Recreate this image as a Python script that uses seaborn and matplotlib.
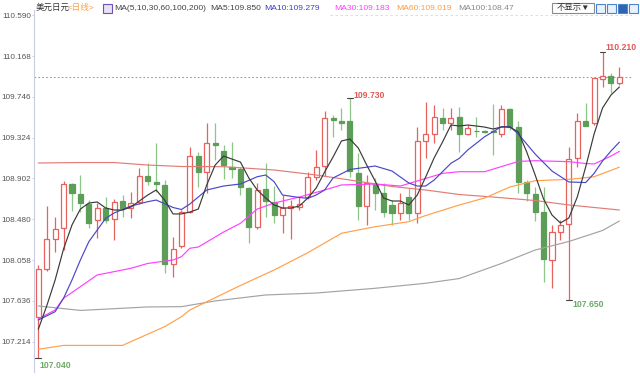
import matplotlib
matplotlib.use("Agg")
import matplotlib.pyplot as plt
from matplotlib.patches import Rectangle
import numpy as np
import pandas as pd
import seaborn as sns

# ---------------- data ----------------
opens = [107.473, 107.963, 108.273, 108.387, 108.845, 108.742, 108.638, 108.473, 108.600, 108.480,
         108.669, 108.594, 108.662, 108.928, 108.869, 108.835, 108.018, 108.204, 108.559, 109.138,
         108.972, 109.266, 109.190, 109.024, 109.000, 108.801, 108.404, 108.790, 108.662, 108.524,
         108.594, 108.611, 108.707, 108.921, 109.031, 109.525, 109.494, 109.497, 108.962, 108.618,
         108.845, 108.749, 108.628, 108.542, 108.707, 108.549, 109.293, 109.362, 109.525, 109.473,
         109.535, 109.362, 109.397, 109.392, 109.395, 109.362, 109.618, 109.438, 108.869, 108.742,
         108.559, 108.059, 108.352, 108.431, 109.111, 109.500, 109.479, 109.931, 109.965, 109.893]
highs = [108.007, 108.618, 108.507, 108.879, 108.859, 108.938, 108.680, 108.646, 108.714, 108.687,
         108.731, 108.766, 109.008, 109.059, 109.272, 108.887, 108.300, 108.580, 109.231, 109.179,
         109.479, 109.479, 109.249, 109.283, 109.020, 108.810, 108.852, 109.059, 108.825, 108.731,
         108.680, 108.714, 108.972, 109.197, 109.603, 109.559, 109.628, 109.730, 109.169, 108.938,
         108.904, 108.852, 108.680, 108.749, 108.801, 109.438, 109.696, 109.662, 109.628, 109.630,
         109.645, 109.455, 109.535, 109.400, 109.673, 109.662, 109.628, 109.500, 108.890, 108.818,
         108.818, 108.421, 108.473, 109.231, 109.576, 109.686, 109.940, 110.210, 109.996, 110.052]
lows = [107.040, 107.950, 108.145, 108.163, 108.569, 108.559, 108.387, 108.284, 108.439, 108.266,
        108.507, 108.490, 108.640, 108.835, 108.766, 107.922, 107.886, 108.180, 108.540, 108.818,
        108.749, 109.093, 108.894, 108.904, 108.731, 108.232, 108.380, 108.507, 108.439, 108.335,
        108.273, 108.576, 108.687, 108.887, 108.930, 109.334, 109.403, 108.921, 108.473, 108.421,
        108.576, 108.507, 108.421, 108.473, 108.473, 108.445, 109.111, 109.266, 109.403, 109.400,
        109.179, 109.352, 109.328, 109.375, 109.145, 109.328, 109.403, 108.755, 108.672, 108.466,
        107.835, 107.766, 108.266, 107.650, 109.018, 109.440, 109.455, 109.852, 109.790, 109.869]
closes = [107.963, 108.273, 108.377, 108.842, 108.749, 108.646, 108.439, 108.600, 108.473, 108.662,
          108.594, 108.652, 108.928, 108.879, 108.842, 108.018, 108.170, 108.559, 109.138, 108.972,
          109.266, 109.252, 109.042, 109.000, 108.811, 108.404, 108.783, 108.672, 108.524, 108.594,
          108.618, 108.638, 108.914, 109.024, 109.525, 109.507, 109.479, 108.983, 108.618, 108.852,
          108.749, 108.559, 108.542, 108.652, 108.549, 109.293, 109.362, 109.535, 109.473, 109.525,
          109.362, 109.421, 109.390, 109.386, 109.388, 109.618, 109.438, 108.869, 108.749, 108.559,
          108.066, 108.352, 108.421, 109.101, 109.500, 109.445, 109.938, 109.965, 109.893, 109.949]

ma5 = [107.342, 107.583, 107.852, 108.173, 108.421, 108.586, 108.648, 108.659, 108.597, 108.576,
       108.576, 108.607, 108.669, 108.731, 108.783, 108.679, 108.535, 108.535, 108.555, 108.586,
       108.835, 109.041, 109.134, 109.103, 109.072, 108.907, 108.783, 108.700, 108.628, 108.597,
       108.597, 108.617, 108.700, 108.804, 108.969, 109.124, 109.290, 109.310, 109.217, 109.041,
       108.876, 108.700, 108.669, 108.669, 108.628, 108.731, 108.917, 109.114, 109.279, 109.455,
       109.445, 109.455, 109.445, 109.434, 109.414, 109.434, 109.434, 109.383, 109.176, 108.938,
       108.690, 108.524, 108.442, 108.493, 108.710, 109.021, 109.362, 109.631, 109.765, 109.848]

ma10_idx = [0, 2, 3, 4, 5, 6, 7, 8, 9, 11, 13, 14, 16, 17, 18, 20, 22, 24, 26, 27, 28, 29, 31, 32,
            33, 34, 35, 37, 40, 42, 44, 45, 46, 47, 49, 50, 51, 53, 55, 56, 57, 59, 61, 63, 65, 66,
            67, 68, 69]
ma10 = [107.438, 107.524, 107.663, 107.852, 108.059, 108.248, 108.369, 108.490, 108.545, 108.617,
        108.662, 108.679, 108.602, 108.581, 108.638, 108.783, 108.824, 108.845, 108.920, 108.938,
        108.869, 108.731, 108.705, 108.697, 108.731, 108.783, 108.907, 108.995, 109.031, 108.979,
        108.855, 108.824, 108.824, 108.886, 109.059, 109.111, 109.197, 109.334, 109.438, 109.438,
        109.362, 109.155, 108.979, 108.866, 108.860, 108.955, 109.083, 109.186, 109.278]

ma30_idx = [0, 2, 3, 5, 7, 9, 11, 13, 16, 17, 18, 19, 22, 24, 26, 28, 31, 34, 36, 40, 43, 45, 48,
            50, 53, 57, 59, 63, 65, 66, 68, 69]
ma30 = [107.449, 107.542, 107.663, 107.783, 107.904, 107.938, 107.973, 108.023, 108.059, 108.093,
        108.180, 108.193, 108.348, 108.438, 108.586, 108.648, 108.710, 108.783, 108.835, 108.845,
        108.824, 108.876, 108.955, 108.972, 108.972, 109.078, 109.086, 109.076, 109.057, 109.052,
        109.134, 109.183]

ma60_idx = [0, 3, 10, 11, 15, 17, 18, 24, 28, 32, 36, 40, 44, 46, 50, 53, 56, 59, 63, 66, 69]
ma60 = [107.135, 107.175, 107.175, 107.214, 107.369, 107.472, 107.542, 107.795, 107.955, 108.134,
        108.335, 108.403, 108.455, 108.519, 108.628, 108.700, 108.814, 108.879, 108.893, 108.920,
        109.019]

ma100_idx = [0, 5, 9, 13, 17, 21, 27, 33, 40, 46, 50, 55, 59, 63, 67, 69]
ma100 = [107.583, 107.537, 107.555, 107.573, 107.576, 107.635, 107.697, 107.717, 107.766, 107.818,
         107.867, 108.023, 108.162, 108.250, 108.364, 108.462]

ma200_idx = [0, 5, 9, 13, 17, 22, 28, 33, 37, 42, 46, 50, 54, 59, 63, 69]
ma200 = [109.062, 109.067, 109.067, 109.041, 109.026, 109.024, 108.990, 108.938, 108.886, 108.819,
         108.783, 108.736, 108.710, 108.674, 108.628, 108.576]

yticks = [110.590, 110.168, 109.746, 109.324, 108.902, 108.480, 108.058, 107.636, 107.214]
last_price = 109.949

header_parts = ["美元日元", "<日线>", "MA(5,10,30,60,100,200)", "MA5:109.850", "MA10:109.279",
                "MA30:109.183", "MA60:109.019", "MA100:108.47"]
button_label = "不显示▼"

# ---------------- style ----------------
sns.set_style("white")
plt.rcParams["font.family"] = ["Liberation Sans", "Noto Sans CJK SC", "DejaVu Sans"]

UP = "#e8625d"
DOWN = "#5c9e58"
DOWN_WICK = "#8dc689"

fig = plt.figure(figsize=(6.4, 3.8), dpi=100)
ax = fig.add_axes([34 / 640, 8 / 380, 598 / 640, 362 / 380])

n = len(closes)
xs = np.arange(n)
df = pd.DataFrame({"x": xs, "open": opens, "high": highs, "low": lows, "close": closes})
up = df["close"] >= df["open"]

# wicks
ax.vlines(df.loc[up, "x"], df.loc[up, "low"], df.loc[up, "high"], color=UP, lw=0.9, zorder=2)
ax.vlines(df.loc[~up, "x"], df.loc[~up, "low"], df.loc[~up, "high"], color=DOWN_WICK, lw=0.9, zorder=2)

# bodies
body_lo = np.minimum(df["open"], df["close"])
body_h = np.maximum(np.abs(df["close"] - df["open"]), 0.006)
ax.bar(df.loc[up, "x"], body_h[up], bottom=body_lo[up], width=0.6,
       facecolor="white", edgecolor=UP, linewidth=0.9, zorder=3)
ax.bar(df.loc[~up, "x"], body_h[~up], bottom=body_lo[~up], width=0.6,
       facecolor=DOWN, edgecolor=DOWN, linewidth=0.9, zorder=3)

# moving averages
lines = [
    (ma200_idx, ma200, "#e27c76"),
    (ma100_idx, ma100, "#a3a3a3"),
    (ma60_idx, ma60, "#ffa04a"),
    (ma30_idx, ma30, "#ff40ff"),
    (ma10_idx, ma10, "#4848c8"),
    (list(range(n)), ma5, "#3a3a3a"),
]
for idx, vals, col in lines:
    sns.lineplot(x=idx, y=vals, ax=ax, color=col, linewidth=0.85, estimator=None,
                 sort=False, zorder=4)

# current price line and faint top border
ax.axhline(last_price, color="#6aa8e8", lw=0.8, ls=(0, (1.5, 2)), zorder=1)
ax.hlines(yticks[0], 34.6, 70.5, color="#d8d8d8", lw=0.6, ls=(0, (3, 3)), zorder=1)

# extreme annotations
i_hi1 = 37
i_hi2 = int(np.argmax(highs))
i_lo1 = int(np.argmin(lows))
i_lo2 = 63
for i in (i_hi1, i_hi2):
    ax.plot([i - 0.35, i + 0.35], [highs[i], highs[i]], color="#444444", lw=0.8, zorder=5)
for i in (i_lo1, i_lo2):
    ax.plot([i - 0.35, i + 0.35], [lows[i], lows[i]], color="#444444", lw=0.8, zorder=5)
ax.text(i_hi1 + 0.4, highs[i_hi1] + 0.03, f"{highs[i_hi1]:.3f}", color="#e05a55",
        fontsize=6.2, fontweight="bold", ha="left", va="center", zorder=6)
ax.text(i_hi2 + 0.4, highs[i_hi2] + 0.045, f"{highs[i_hi2]:.3f}", color="#e05a55",
        fontsize=6.2, fontweight="bold", ha="left", va="center", zorder=6)
ax.text(i_lo1 + 0.2, lows[i_lo1] - 0.07, f"{lows[i_lo1]:.3f}", color="#6aaa66",
        fontsize=6.2, fontweight="bold", ha="left", va="center", zorder=6)
ax.text(i_lo2 + 0.45, lows[i_lo2] - 0.055, f"{lows[i_lo2]:.3f}", color="#6aaa66",
        fontsize=6.2, fontweight="bold", ha="left", va="center", zorder=6)

# axes styling
ax.set_xlim(-0.51, 70.5)
ax.set_ylim(106.900, 110.645)
ax.set_xticks([])
ax.set_yticks(yticks)
ax.set_yticklabels([f"{t:.3f}" for t in yticks])
ax.tick_params(axis="y", labelsize=5.9, labelcolor="#555555", color="#c8cde0",
               length=1.5, width=0.7, pad=0.6, left=True)
for s in ("top", "right", "bottom"):
    ax.spines[s].set_visible(False)
ax.spines["left"].set_color("#c8cde0")
ax.spines["left"].set_linewidth(0.8)
ax.set_xlabel("")
ax.set_ylabel("")

# header
hy = 1 - 8 / 380
header_x = [36, 68, 114, 210, 264, 334, 396, 458]
header_c = ["#333333", "#f5a04a", "#444444", "#444444", "#4040c0", "#ff40ff", "#ff9a40", "#888888"]
for txt, xp, col in zip(header_parts, header_x, header_c):
    fig.text(xp / 640, hy, txt, color=col, fontsize=6.1, ha="left", va="center")
fig.add_artist(Rectangle((102.5 / 640, (380 - 13) / 380), 9 / 640, 9 / 380,
                         transform=fig.transFigure, facecolor="#e8e0f5",
                         edgecolor="#7050b0", lw=0.8))

# right-hand buttons
fig.add_artist(Rectangle((552 / 640, (380 - 13) / 380), 42 / 640, 10 / 380,
                         transform=fig.transFigure, facecolor="white",
                         edgecolor="#8a8a8a", lw=0.8))
fig.text(573 / 640, 1 - 8 / 380, button_label, fontsize=6.0, color="#333333",
         ha="center", va="center")
for k, xb in enumerate([596, 607, 618, 629]):
    fig.add_artist(Rectangle((xb / 640, (380 - 13) / 380), 9 / 640, 9 / 380,
                             transform=fig.transFigure,
                             facecolor="#2f64b0" if k == 2 else "#eaf1fb",
                             edgecolor="#4a86d0", lw=0.8))

fig.savefig("out.png", dpi=100)
